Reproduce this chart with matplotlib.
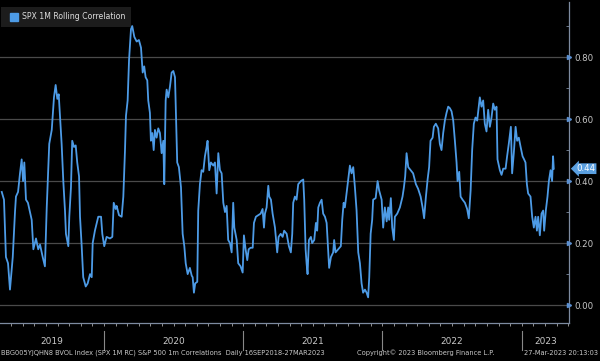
import matplotlib
matplotlib.use("Agg")
from matplotlib import pyplot as plt

# decimal year, correlation value
years = [
    2019.266, 2019.282, 2019.296, 2019.311, 2019.325, 2019.345, 2019.361, 2019.368, 2019.383, 2019.397,
    2019.409, 2019.419, 2019.428, 2019.440, 2019.454, 2019.481, 2019.493, 2019.512, 2019.528, 2019.541,
    2019.560, 2019.576, 2019.589, 2019.607, 2019.625, 2019.641, 2019.653, 2019.665, 2019.675, 2019.684,
    2019.696, 2019.708, 2019.720, 2019.727, 2019.744, 2019.751, 2019.763, 2019.772, 2019.785, 2019.797,
    2019.808, 2019.821, 2019.828, 2019.840, 2019.851, 2019.869, 2019.883, 2019.900, 2019.912, 2019.919,
    2019.935, 2019.959, 2019.979, 2019.988, 2020.002, 2020.019, 2020.043, 2020.060, 2020.070, 2020.084,
    2020.091, 2020.108, 2020.127, 2020.139, 2020.151, 2020.158, 2020.170, 2020.180, 2020.194, 2020.203,
    2020.218, 2020.235, 2020.251, 2020.266, 2020.278, 2020.289, 2020.299, 2020.311, 2020.318, 2020.330,
    2020.337, 2020.347, 2020.357, 2020.366, 2020.378, 2020.390, 2020.402, 2020.414, 2020.426, 2020.433,
    2020.443, 2020.450, 2020.462, 2020.474, 2020.486, 2020.498, 2020.510, 2020.517, 2020.526, 2020.538,
    2020.553, 2020.565, 2020.577, 2020.587, 2020.601, 2020.617, 2020.630, 2020.637, 2020.646, 2020.655,
    2020.670, 2020.677, 2020.689, 2020.701, 2020.713, 2020.725, 2020.737, 2020.744, 2020.756, 2020.768,
    2020.785, 2020.797, 2020.809, 2020.821, 2020.833, 2020.845, 2020.857, 2020.869, 2020.881, 2020.892,
    2020.905, 2020.917, 2020.928, 2020.936, 2020.953, 2020.964, 2020.981, 2020.996, 2021.005, 2021.017,
    2021.029, 2021.039, 2021.053, 2021.068, 2021.077, 2021.091, 2021.108, 2021.125, 2021.139, 2021.149,
    2021.156, 2021.168, 2021.180, 2021.187, 2021.199, 2021.211, 2021.228, 2021.244, 2021.254, 2021.269,
    2021.283, 2021.294, 2021.312, 2021.328, 2021.342, 2021.352, 2021.359, 2021.371, 2021.383, 2021.395,
    2021.414, 2021.431, 2021.438, 2021.448, 2021.455, 2021.462, 2021.472, 2021.486, 2021.495, 2021.510,
    2021.522, 2021.531, 2021.539, 2021.551, 2021.563, 2021.574, 2021.587, 2021.599, 2021.606, 2021.617,
    2021.630, 2021.646, 2021.653, 2021.663, 2021.682, 2021.701, 2021.711, 2021.721, 2021.730, 2021.742,
    2021.754, 2021.766, 2021.778, 2021.790, 2021.802, 2021.814, 2021.826, 2021.838, 2021.850, 2021.861,
    2021.874, 2021.886, 2021.897, 2021.905, 2021.915, 2021.926, 2021.933, 2021.951, 2021.965, 2021.976,
    2021.994, 2022.005, 2022.017, 2022.030, 2022.041, 2022.048, 2022.060, 2022.070, 2022.082, 2022.089,
    2022.106, 2022.125, 2022.144, 2022.154, 2022.163, 2022.173, 2022.185, 2022.202, 2022.220, 2022.240,
    2022.256, 2022.274, 2022.288, 2022.299, 2022.312, 2022.324, 2022.335, 2022.345, 2022.360, 2022.369,
    2022.383, 2022.400, 2022.412, 2022.424, 2022.436, 2022.448, 2022.460, 2022.472, 2022.484, 2022.496,
    2022.508, 2022.520, 2022.532, 2022.539, 2022.551, 2022.561, 2022.575, 2022.592, 2022.608, 2022.620,
    2022.633, 2022.644, 2022.656, 2022.668, 2022.680, 2022.699, 2022.711, 2022.723, 2022.735, 2022.747,
    2022.759, 2022.771, 2022.783, 2022.795, 2022.807, 2022.819, 2022.826, 2022.843, 2022.855, 2022.867,
    2022.884, 2022.895, 2022.907, 2022.922, 2022.931, 2022.943, 2022.956, 2022.967, 2022.979, 2022.992,
    2023.006, 2023.017, 2023.027, 2023.037, 2023.046, 2023.063, 2023.075, 2023.087, 2023.099, 2023.109,
    2023.118, 2023.130, 2023.142, 2023.154, 2023.161, 2023.173, 2023.185, 2023.195, 2023.207, 2023.218,
    2023.225, 2023.230,
]
corr = [
    0.365, 0.34, 0.155, 0.135, 0.05, 0.155, 0.30, 0.35, 0.365, 0.425,
    0.47, 0.40, 0.46, 0.34, 0.33, 0.275, 0.18, 0.215, 0.18, 0.195,
    0.155, 0.125, 0.315, 0.52, 0.565, 0.67, 0.71, 0.665, 0.68, 0.61,
    0.52, 0.40, 0.305, 0.23, 0.19, 0.285, 0.38, 0.53, 0.51, 0.515,
    0.46, 0.415, 0.285, 0.19, 0.09, 0.06, 0.07, 0.10, 0.09, 0.20,
    0.24, 0.285, 0.285, 0.23, 0.19, 0.22, 0.215, 0.22, 0.33, 0.31,
    0.32, 0.29, 0.285, 0.35, 0.50, 0.61, 0.66, 0.79, 0.89, 0.90,
    0.865, 0.85, 0.855, 0.83, 0.75, 0.77, 0.735, 0.725, 0.66, 0.62,
    0.53, 0.555, 0.50, 0.565, 0.54, 0.57, 0.555, 0.49, 0.53, 0.39,
    0.66, 0.695, 0.67, 0.705, 0.75, 0.755, 0.735, 0.61, 0.46, 0.445,
    0.38, 0.23, 0.19, 0.135, 0.10, 0.12, 0.095, 0.09, 0.04, 0.07,
    0.075, 0.305, 0.39, 0.435, 0.43, 0.48, 0.51, 0.53, 0.435, 0.46,
    0.45, 0.46, 0.36, 0.49, 0.435, 0.425, 0.33, 0.30, 0.32, 0.21,
    0.20, 0.17, 0.33, 0.25, 0.21, 0.135, 0.125, 0.105, 0.225, 0.18,
    0.145, 0.18, 0.185, 0.185, 0.265, 0.285, 0.29, 0.295, 0.31, 0.25,
    0.295, 0.315, 0.385, 0.35, 0.34, 0.295, 0.25, 0.17, 0.22, 0.23,
    0.22, 0.24, 0.23, 0.19, 0.17, 0.23, 0.33, 0.35, 0.34, 0.39,
    0.40, 0.405, 0.34, 0.18, 0.135, 0.10, 0.21, 0.22, 0.20, 0.21,
    0.265, 0.24, 0.315, 0.33, 0.34, 0.295, 0.285, 0.265, 0.21, 0.12,
    0.155, 0.17, 0.21, 0.17, 0.18, 0.19, 0.275, 0.33, 0.315, 0.36,
    0.405, 0.45, 0.425, 0.445, 0.38, 0.305, 0.17, 0.135, 0.07, 0.04,
    0.05, 0.04, 0.025, 0.09, 0.23, 0.275, 0.34, 0.345, 0.40, 0.37,
    0.34, 0.25, 0.315, 0.27, 0.315, 0.275, 0.345, 0.25, 0.21, 0.285,
    0.295, 0.315, 0.35, 0.38, 0.415, 0.49, 0.445, 0.435, 0.425, 0.39,
    0.375, 0.35, 0.315, 0.28, 0.35, 0.405, 0.445, 0.53, 0.54, 0.575,
    0.585, 0.57, 0.52, 0.50, 0.555, 0.595, 0.62, 0.64, 0.635, 0.625,
    0.595, 0.53, 0.46, 0.40, 0.43, 0.35, 0.34, 0.33, 0.31, 0.28,
    0.37, 0.50, 0.585, 0.605, 0.595, 0.67, 0.64, 0.66, 0.585, 0.56,
    0.63, 0.575, 0.605, 0.65, 0.63, 0.64, 0.47, 0.435, 0.42, 0.44,
    0.44, 0.48, 0.52, 0.575, 0.425, 0.49, 0.575, 0.53, 0.54, 0.51,
    0.48, 0.47, 0.46, 0.39, 0.36, 0.35, 0.285, 0.25, 0.285, 0.24,
    0.285, 0.225, 0.295, 0.305, 0.24, 0.305, 0.35, 0.40, 0.435, 0.40,
    0.48, 0.44,
]

year_labels = ["2019", "2020", "2021", "2022", "2023"]
y_ticks = [0.0, 0.2, 0.4, 0.6, 0.8]
last_value = 0.44

line_color = "#4d9be6"
text_color = "#c8c8c8"
axis_color = "#7d8ba0"

fig = plt.figure(figsize=(6.0, 3.61), dpi=100, facecolor="black")
ax = fig.add_axes([0.0, 0.105, 0.948, 0.889])
ax.set_facecolor("black")

x0, x1 = 2019.2534, 2023.338
ax.set_xlim(x0, x1)
ax.set_ylim(-0.058, 0.977)

for v in y_ticks:
    ax.axhline(v, color="#4a4a4a", linewidth=0.9, zorder=1)

ax.plot(years, corr, color=line_color, linewidth=1.3, zorder=3)

# spines
for s in ["left", "top"]:
    ax.spines[s].set_visible(False)
ax.spines["right"].set_color(axis_color)
ax.spines["bottom"].set_color(axis_color)
ax.spines["right"].set_linewidth(0.9)
ax.spines["bottom"].set_linewidth(0.9)

# right axis ticks
ax.yaxis.tick_right()
ax.set_yticks(y_ticks)
ax.set_yticklabels([f"{v:.2f}" for v in y_ticks], color=text_color, fontsize=6.2)
ax.tick_params(axis="y", length=0, pad=4)
ax.set_yticks([0.1, 0.3, 0.5, 0.7, 0.9], minor=True)
ax.tick_params(axis="y", which="minor", length=2, color=axis_color, direction="in")
ax.plot([x1] * len(y_ticks), y_ticks, marker=">", linestyle="none", markersize=3,
        color="#5b8fd0", clip_on=False, zorder=4)

# monthly ticks on bottom
months = [y + m / 12 for y in range(2019, 2024) for m in range(12)]
months = [m for m in months if x0 <= m <= x1]
ax.set_xticks([])
ax.set_xticks(months, minor=True)
ax.tick_params(axis="x", which="minor", length=2.5, color="#aaaaaa", direction="out")

# year separators and labels
trans = ax.get_xaxis_transform()
for yr in range(2020, 2024):
    ax.plot([yr, yr], [-0.025, -0.085], transform=trans, color="#888888",
            linewidth=0.8, clip_on=False)
for i, lab in enumerate(year_labels):
    start = max(2019 + i, x0)
    end = min(2020 + i, x1)
    ax.text((start + end) / 2, -0.058, lab, transform=trans, ha="center", va="center",
            color=text_color, fontsize=6.5)

# legend box
ax.text(0.012, 0.955, "      SPX 1M Rolling Correlation", transform=ax.transAxes,
        ha="left", va="center", color="#dddddd", fontsize=5.6,
        bbox=dict(boxstyle="square,pad=0.7", fc="#1c1c1c", ec="none"))
ax.plot([0.025], [0.955], transform=ax.transAxes, marker="s", markersize=5.5,
        color=line_color, linestyle="none", zorder=5)

# last value label
ax.annotate(f"{last_value:.2f}", xy=(1.0, last_value), xycoords=("axes fraction", "data"),
            xytext=(5.5, 0), textcoords="offset points", ha="left", va="center",
            color="white", fontsize=6.2, annotation_clip=False,
            bbox=dict(boxstyle="larrow,pad=0.1", fc="#5a9fe0", ec="none"))

# footer
fig.text(0.002, 0.022, "BBG005YJQHN8 BVOL Index (SPX 1M RC) S&P 500 1m Correlations  Daily 16SEP2018-27MAR2023",
         color=text_color, fontsize=4.8, ha="left", va="center")
fig.text(0.595, 0.022, "Copyright\u00a9 2023 Bloomberg Finance L.P.",
         color=text_color, fontsize=4.8, ha="left", va="center")
fig.text(0.997, 0.022, "27-Mar-2023 20:13:03",
         color=text_color, fontsize=4.8, ha="right", va="center")

fig.savefig("out.png", dpi=100, facecolor="black")
